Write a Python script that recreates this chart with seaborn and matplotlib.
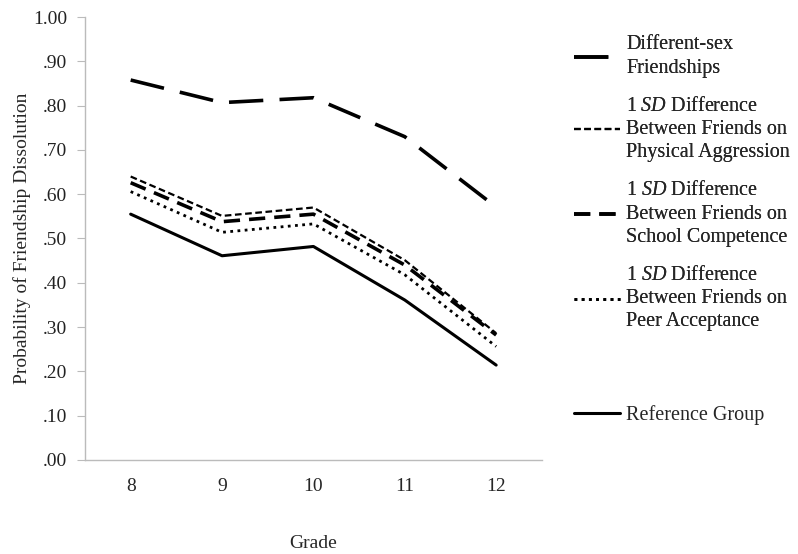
import numpy as np
import pandas as pd
import matplotlib
matplotlib.use("Agg")
import matplotlib.pyplot as plt
import seaborn as sns

grades = ["8", "9", "10", "11", "12"]
different_sex = [0.858, 0.807, 0.818, 0.730, 0.571]
physical_aggr = [0.640, 0.551, 0.570, 0.451, 0.286]
school_comp = [0.626, 0.538, 0.555, 0.440, 0.282]
peer_accept = [0.606, 0.514, 0.533, 0.418, 0.256]
reference = [0.555, 0.461, 0.482, 0.361, 0.214]

labels = [
    "Different-sex\nFriendships",
    "$\\mathit{1\\ SD}$ Difference\nBetween Friends on\nPhysical Aggression",
    "1 $\\mathit{SD}$ Difference\nBetween Friends on\nSchool Competence",
    "1 $\\mathit{SD}$ Difference\nBetween Friends on\nPeer Acceptance",
    "Reference Group",
]
series = [different_sex, physical_aggr, school_comp, peer_accept, reference]
styles = [
    dict(linestyle=(0, (9.5, 4.5)), linewidth=2.6),
    dict(linestyle=(0, (3, 1.6)), linewidth=1.6),
    dict(linestyle=(0, (4.5, 2.5)), linewidth=2.6),
    dict(linestyle=(0, (1, 1.6)), linewidth=2.0),
    dict(linestyle="-", linewidth=2.2),
]

sns.set_style("white")
plt.rcParams["font.family"] = ["Liberation Serif", "DejaVu Serif"]
plt.rcParams["mathtext.fontset"] = "custom"
plt.rcParams["mathtext.it"] = "Liberation Serif:italic"
plt.rcParams["mathtext.rm"] = "Liberation Serif"

fig = plt.figure(figsize=(7.98, 5.54), dpi=100)
ax = fig.add_axes([0.1065, 0.170, 0.5725, 0.799])

x = np.arange(len(grades))
lines = []
for vals, lab, st in zip(series, labels, styles):
    df = pd.DataFrame({"x": x, "y": vals})
    sns.lineplot(data=df, x="x", y="y", ax=ax, color="black", label=lab, **st)
    lines.append(ax.lines[-1])

ax.set_xlim(-0.5, 4.5)
ax.set_ylim(0, 1.0)
ax.set_xticks(x)
ax.set_xticklabels(grades, fontsize=14)
yt = np.arange(0, 1.01, 0.1)
ax.set_yticks(yt)
ax.set_yticklabels(["1.00" if v > 0.99 else ("%.2f" % v)[1:] for v in yt],
                   fontsize=14, color="#222222")
ax.tick_params(axis="y", length=6, color="#bbbbbb", direction="out", left=True, pad=7)
ax.tick_params(axis="x", length=0, pad=13)
for s in ["top", "right"]:
    ax.spines[s].set_visible(False)
for s in ["left", "bottom"]:
    ax.spines[s].set_color("#bbbbbb")
    ax.spines[s].set_linewidth(1.0)

ax.set_xlabel("")
ax.set_ylabel("Probability of Friendship Dissolution", fontsize=14, labelpad=1)
ax.get_legend().remove()
fig.text(0.1065 + 0.5725 / 2, 1 - 543 / 554, "Grade", ha="center", va="center", fontsize=14)

leg1 = fig.legend(lines[:4], labels[:4], loc="upper left", bbox_to_anchor=(0.719, 0.936),
                  frameon=False, fontsize=14.5, handlelength=2.3, handletextpad=0.3,
                  labelspacing=0.95, borderaxespad=0, borderpad=0)
for t in leg1.get_texts():
    t.set_linespacing(1.3)
fig.add_artist(leg1)
fig.legend(lines[4:], labels[4:], loc="upper left", bbox_to_anchor=(0.719, 0.268),
           frameon=False, fontsize=14.5, handlelength=2.3, handletextpad=0.3,
           borderaxespad=0, borderpad=0)

fig.savefig("out.png", dpi=100)
